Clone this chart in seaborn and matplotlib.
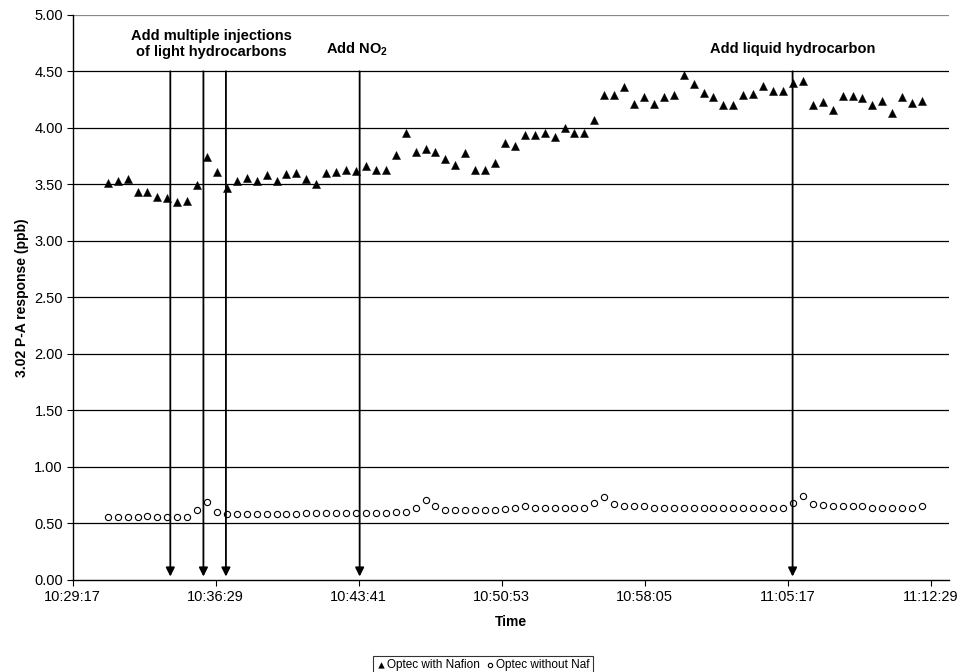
import pandas as pd
import numpy as np
import matplotlib
matplotlib.use("Agg")
import matplotlib.pyplot as plt
import matplotlib.dates as mdates
import seaborn as sns

# Data (readings every 30 s)
start_time = "2000-01-01 10:31:03"
with_nafion = [3.51, 3.53, 3.55, 3.43, 3.43, 3.39, 3.38, 3.34, 3.35, 3.49,
               3.74, 3.61, 3.47, 3.53, 3.56, 3.53, 3.58, 3.53, 3.59, 3.60,
               3.55, 3.50, 3.60, 3.61, 3.63, 3.62, 3.66, 3.63, 3.63, 3.76,
               3.95, 3.79, 3.81, 3.79, 3.72, 3.67, 3.78, 3.63, 3.63, 3.69,
               3.87, 3.84, 3.94, 3.94, 3.95, 3.92, 4.00, 3.95, 3.95, 4.07,
               4.29, 4.29, 4.36, 4.21, 4.27, 4.21, 4.27, 4.29, 4.47, 4.39,
               4.31, 4.27, 4.20, 4.20, 4.29, 4.30, 4.37, 4.33, 4.33, 4.40,
               4.41, 4.20, 4.23, 4.16, 4.28, 4.28, 4.26, 4.20, 4.24, 4.13,
               4.27, 4.22, 4.24]
without_nafion = [0.56, 0.56, 0.56, 0.56, 0.57, 0.56, 0.56, 0.56, 0.56, 0.62,
                  0.69, 0.60, 0.58, 0.58, 0.58, 0.58, 0.58, 0.58, 0.58, 0.58,
                  0.59, 0.59, 0.59, 0.59, 0.59, 0.59, 0.59, 0.59, 0.59, 0.60,
                  0.60, 0.64, 0.71, 0.65, 0.62, 0.62, 0.62, 0.62, 0.62, 0.62,
                  0.63, 0.64, 0.65, 0.64, 0.64, 0.64, 0.64, 0.64, 0.64, 0.68,
                  0.73, 0.67, 0.65, 0.65, 0.65, 0.64, 0.64, 0.64, 0.64, 0.64,
                  0.64, 0.64, 0.64, 0.64, 0.64, 0.64, 0.64, 0.64, 0.64, 0.68,
                  0.74, 0.67, 0.66, 0.65, 0.65, 0.65, 0.65, 0.64, 0.64, 0.64,
                  0.64, 0.64, 0.65]

tick_labels = ["10:29:17", "10:36:29", "10:43:41", "10:50:53",
               "10:58:05", "11:05:17", "11:12:29"]
x_max = "11:13:25"
event_times = ["10:34:12", "10:35:52", "10:37:00", "10:43:44", "11:05:32"]
event_texts = ["Add multiple injections\nof light hydrocarbons",
               r"Add NO$_\mathbf{2}$", "Add liquid hydrocarbon"]
event_text_times = ["10:36:17", "10:43:35", "11:05:33"]
event_text_y = [4.74, 4.70, 4.70]

day = "2000-01-01 "
times = pd.date_range(start_time, periods=len(with_nafion), freq="30s")
df = pd.DataFrame({"Time": times, "with": with_nafion, "without": without_nafion})

sns.set_style("white")
plt.rcParams["font.family"] = ["Liberation Sans", "DejaVu Sans"]
plt.rcParams["mathtext.fontset"] = "custom"
plt.rcParams["mathtext.rm"] = "Liberation Sans"
plt.rcParams["mathtext.bf"] = "Liberation Sans:bold"
plt.rcParams["text.color"] = "black"
plt.rcParams["axes.labelcolor"] = "black"
plt.rcParams["xtick.color"] = "black"
plt.rcParams["ytick.color"] = "black"

fig = plt.figure(figsize=(9.6, 6.72), dpi=100)
ax = fig.add_axes([0.0757, 0.137, 0.913, 0.841])

# gridlines
for y in np.arange(0.5, 5.01, 0.5):
    ax.axhline(y, color="black" if y < 5 else "#888888", lw=0.9, zorder=0)

sns.scatterplot(data=df, x="Time", y="with", marker="^", s=34, color="black",
                edgecolor="black", linewidth=0.3, ax=ax, label="Optec with Nafion", zorder=3)
sns.scatterplot(data=df, x="Time", y="without", marker="o", s=20, facecolor="white",
                edgecolor="black", linewidth=0.8, ax=ax, label="Optec without Naf", zorder=3)

# event arrows
for t in event_times:
    tx = mdates.date2num(pd.Timestamp(day + t))
    ax.annotate("", xy=(tx, 0.03), xytext=(tx, 4.5),
                arrowprops=dict(arrowstyle="-|>", color="black", lw=1.3,
                                mutation_scale=13, shrinkA=0, shrinkB=0), zorder=4)
for txt, t, y in zip(event_texts, event_text_times, event_text_y):
    tx = mdates.date2num(pd.Timestamp(day + t))
    ax.text(tx, y, txt, ha="center", va="center", fontsize=10.5,
            fontweight="bold", linespacing=1.15, color="black")

ticks = [pd.Timestamp(day + t) for t in tick_labels]
ax.set_xticks(ticks)
ax.set_xticklabels(tick_labels, fontsize=10.5)
ax.set_xlim(ticks[0], pd.Timestamp(day + x_max))
ax.set_ylim(0, 5)
ax.set_yticks(np.arange(0, 5.01, 0.5))
ax.set_yticklabels([f"{v:.2f}" for v in np.arange(0, 5.01, 0.5)], fontsize=10.5)
ax.tick_params(axis="both", direction="out", length=4, width=0.8, color="black",
               labelcolor="black", bottom=True, left=True, pad=3)

ax.set_xlabel("Time", fontsize=10, fontweight="bold", labelpad=8, color="black")
ax.set_ylabel("3.02 P-A response (ppb)", fontsize=10, fontweight="bold", labelpad=4,
              color="black")

for side in ["top", "right"]:
    ax.spines[side].set_visible(False)
for side in ["left", "bottom"]:
    ax.spines[side].set_color("black")
    ax.spines[side].set_linewidth(1.0)

ax.get_legend().remove()
handles, labels = ax.get_legend_handles_labels()
leg = fig.legend(handles, labels, loc="upper center", bbox_to_anchor=(0.503, 0.033),
                 ncol=2, fontsize=8.5, frameon=True, fancybox=False, edgecolor="black",
                 handletextpad=0.05, columnspacing=0.5, handlelength=0.8,
                 markerscale=0.7, borderpad=0.3)
leg.get_frame().set_linewidth(0.8)
for t in leg.get_texts():
    t.set_color("black")

fig.savefig("out.png", dpi=100)
